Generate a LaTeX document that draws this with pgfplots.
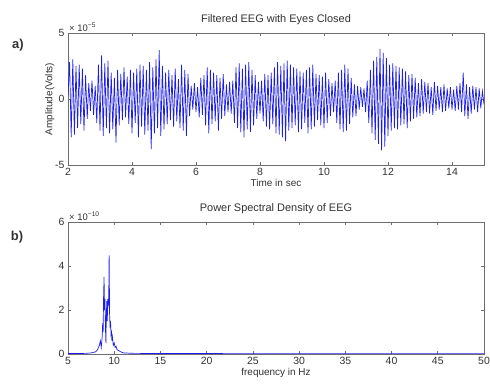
\documentclass[border=0pt]{standalone}
\usepackage{pgfplots}
\pgfplotsset{compat=1.18}
\usepackage{fontspec}
\setmainfont{Liberation Sans}
\definecolor{axgray}{RGB}{110,110,110}
\definecolor{txtgray}{RGB}{50,50,50}
\definecolor{sigblue}{RGB}{30,30,235}
\begin{document}
\begin{tikzpicture}
\useasboundingbox (0bp,0bp) rectangle (490bp,390bp);
\pgfplotsset{every axis/.append style={
  scale only axis, width=416bp, height=132bp, anchor=south west,
  axis line style={axgray, line width=0.8pt},
  tick style={axgray, line width=0.6pt}, major tick length=3bp,
  tick align=inside, xtick pos=both, ytick pos=both,
  /pgf/number format/assume math mode=true,
  tick label style={font=\fontsize{10.5}{12}\selectfont, text=txtgray},
  label style={font=\fontsize{10}{12}\selectfont, text=txtgray},
  title style={font=\fontsize{11}{13}\selectfont, text=txtgray},
  scaled ticks=false, clip mode=individual,
}}
\begin{axis}[at={(68bp,225bp)},
  xmin=2, xmax=15, ymin=-5, ymax=5,
  xtick={2,4,...,14}, ytick={-5,0,5},
  xticklabels={2,4,6,8,10,12,14},
  yticklabels={-5,0,5},
  title={Filtered EEG with Eyes Closed},
  title style={yshift=-1bp},
  xlabel={Time in sec}, xlabel style={yshift=3bp},
  ylabel={Amplitude(Volts)}, ylabel style={yshift=-6bp}]
\addplot[sigblue, line width=0.7pt] coordinates {
(2.00,0.3)(2.05,2.8)(2.10,-2.9)(2.15,3.0)(2.20,-2.7)(2.25,2.5)(2.30,-2.2)(2.35,2.6)(2.40,-1.9)(2.45,2.3)
(2.50,-2.4)(2.55,1.8)(2.60,-1.5)(2.65,1.2)(2.70,-0.9)(2.75,1.4)(2.80,-1.2)(2.85,1.0)(2.90,-1.8)(2.95,2.6)
(3.00,-2.4)(3.05,3.3)(3.10,-2.8)(3.15,2.7)(3.20,-2.2)(3.25,2.9)(3.30,-2.6)(3.35,2.0)(3.40,-2.3)(3.45,1.6)
(3.50,-3.3)(3.55,2.2)(3.60,-2.0)(3.65,1.9)(3.70,-1.6)(3.75,2.4)(3.80,-1.4)(3.85,1.7)(3.90,-1.9)(3.95,2.2)
(4.00,-2.6)(4.05,2.0)(4.10,-1.8)(4.15,2.3)(4.20,-2.9)(4.25,2.6)(4.30,-2.1)(4.35,2.5)(4.40,-2.7)(4.45,2.2)
(4.50,-2.4)(4.55,2.8)(4.60,-3.8)(4.65,2.4)(4.70,-2.6)(4.75,3.0)(4.80,-2.2)(4.85,3.7)(4.90,-2.8)(4.95,2.5)
(5.00,-2.3)(5.05,2.0)(5.10,-1.9)(5.15,2.2)(5.20,-1.6)(5.25,1.8)(5.30,-2.1)(5.35,2.3)(5.40,-1.7)(5.45,1.5)
(5.50,-2.2)(5.55,2.6)(5.60,-2.4)(5.65,2.2)(5.70,-2.8)(5.75,1.9)(5.80,-1.3)(5.85,1.0)(5.90,-0.8)(5.95,1.2)
(6.00,-1.0)(6.05,0.9)(6.10,-1.4)(6.15,1.6)(6.20,-1.2)(6.25,1.8)(6.30,-2.0)(6.35,2.4)(6.40,-2.6)(6.45,2.2)
(6.50,-1.9)(6.55,2.0)(6.60,-1.7)(6.65,1.8)(6.70,-2.4)(6.75,1.6)(6.80,-1.5)(6.85,1.9)(6.90,-1.3)(6.95,1.1)
(7.00,-1.0)(7.05,1.3)(7.10,-1.1)(7.15,1.4)(7.20,-1.8)(7.25,2.4)(7.30,-2.2)(7.35,2.7)(7.40,-2.5)(7.45,2.3)
(7.50,-2.9)(7.55,2.6)(7.60,-2.3)(7.65,2.8)(7.70,-2.5)(7.75,2.2)(7.80,-2.0)(7.85,1.8)(7.90,-1.5)(7.95,1.3)
(8.00,-1.1)(8.05,1.4)(8.10,-1.7)(8.15,1.9)(8.20,-2.1)(8.25,1.8)(8.30,-2.3)(8.35,2.0)(8.40,-1.9)(8.45,2.4)
(8.50,-2.6)(8.55,2.8)(8.60,-2.7)(8.65,2.5)(8.70,-2.9)(8.75,2.7)(8.80,-3.2)(8.85,2.9)(8.90,-2.4)(8.95,2.6)
(9.00,-2.2)(9.05,2.4)(9.10,-2.0)(9.15,2.3)(9.20,-2.5)(9.25,2.1)(9.30,-2.3)(9.35,2.0)(9.40,-1.8)(9.45,2.2)
(9.50,-2.6)(9.55,2.4)(9.60,-2.3)(9.65,2.6)(9.70,-2.1)(9.75,1.9)(9.80,-1.6)(9.85,1.8)(9.90,-2.0)(9.95,1.7)
(10.00,-2.2)(10.05,2.0)(10.10,-1.8)(10.15,1.5)(10.20,-1.3)(10.25,1.2)(10.30,-1.0)(10.35,1.4)(10.40,-1.8)(10.45,2.0)
(10.50,-2.3)(10.55,2.2)(10.60,-2.5)(10.65,2.6)(10.70,-2.4)(10.75,2.3)(10.80,-1.9)(10.85,1.6)(10.90,-1.4)(10.95,1.1)
(11.00,-1.3)(11.05,1.0)(11.10,-0.8)(11.15,0.9)(11.20,-0.6)(11.25,0.8)(11.30,-1.0)(11.35,1.4)(11.40,-1.8)(11.45,2.2)
(11.50,-2.6)(11.55,2.9)(11.60,-3.1)(11.65,3.2)(11.70,-3.4)(11.75,3.8)(11.80,-3.9)(11.85,3.5)(11.90,-3.6)(11.95,3.1)
(12.00,-2.8)(12.05,2.6)(12.10,-2.4)(12.15,2.7)(12.20,-2.2)(12.25,2.5)(12.30,-2.3)(12.35,2.4)(12.40,-2.0)(12.45,2.3)
(12.50,-1.9)(12.55,2.1)(12.60,-2.2)(12.65,1.8)(12.70,-1.7)(12.75,1.9)(12.80,-1.5)(12.85,1.6)(12.90,-1.4)(12.95,1.2)
(13.00,-1.3)(13.05,1.5)(13.10,-1.1)(13.15,1.3)(13.20,-1.0)(13.25,1.2)(13.30,-1.1)(13.35,0.9)(13.40,-1.2)(13.45,1.3)
(13.50,-0.9)(13.55,1.0)(13.60,-0.8)(13.65,0.9)(13.70,-1.0)(13.75,1.1)(13.80,-0.9)(13.85,0.8)(13.90,-0.7)(13.95,0.9)
(14.00,-0.8)(14.05,0.7)(14.10,-0.9)(14.15,1.0)(14.20,-0.8)(14.25,1.2)(14.30,-1.0)(14.35,2.0)(14.40,-1.3)(14.45,1.1)
(14.50,-1.5)(14.55,0.9)(14.60,-1.1)(14.65,1.0)(14.70,-0.8)(14.75,0.9)(14.80,-1.0)(14.85,0.8)(14.90,-0.7)(14.95,0.6)
(15.00,-0.4)
};
\node[anchor=south west, font=\fontsize{9.5}{10}\selectfont, text=txtgray, inner sep=1bp] at (rel axis cs:0,1) {× 10\textsuperscript{−5}};
\end{axis}
\begin{axis}[at={(68bp,36bp)},
  xmin=5, xmax=50, ymin=0, ymax=6,
  xtick={5,10,...,50}, ytick={0,2,4,6},
  xticklabels={5,10,15,20,25,30,35,40,45,50},
  yticklabels={0,2,4,6},
  title={Power Spectral Density of EEG},
  title style={yshift=-1bp},
  xlabel={frequency in Hz}, xlabel style={yshift=3bp}]
\addplot[sigblue, line width=0.7pt] coordinates {
(5,0.02)(6,0.02)(7,0.03)(7.5,0.05)(7.8,0.08)(8.0,0.1)(8.2,0.2)(8.4,0.4)(8.5,0.6)(8.6,0.3)
(8.7,0.8)(8.75,1.4)(8.8,1.0)(8.85,2.6)(8.9,3.5)(8.95,2.0)(9.0,2.5)(9.05,1.2)(9.1,0.5)(9.15,1.8)
(9.2,2.4)(9.25,1.5)(9.3,2.5)(9.35,2.2)(9.4,2.3)(9.45,4.5)(9.5,1.8)(9.55,1.2)(9.6,1.5)(9.65,0.9)
(9.7,1.0)(9.75,0.6)(9.8,0.8)(9.9,0.4)(10.0,0.5)(10.1,0.3)(10.2,0.35)(10.3,0.2)(10.5,0.15)(10.7,0.1)
(11,0.05)(12,0.03)(15,0.02)(20,0.02)(30,0.01)(40,0.01)(50,0.01)
};
\node[anchor=south west, font=\fontsize{9.5}{10}\selectfont, text=txtgray, inner sep=1bp] at (rel axis cs:0,1) {× 10\textsuperscript{−10}};
\end{axis}
\node[font=\bfseries\fontsize{13}{14}\selectfont, text=txtgray] at (18bp,345bp) {a)};
\node[font=\bfseries\fontsize{13}{14}\selectfont, text=txtgray] at (17bp,153bp) {b)};
\end{tikzpicture}
\end{document}
